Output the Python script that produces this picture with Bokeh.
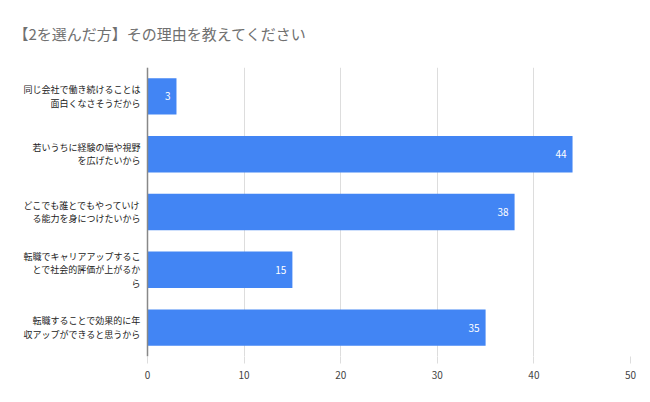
from bokeh.plotting import figure
from bokeh.models import ColumnDataSource, FactorRange, FixedTicker, LabelSet, Span, Range1d
from bokeh.embed import file_html
from bokeh.resources import INLINE
from bokeh.core.properties import value

title_text = "【2を選んだ方】その理由を教えてください"
categories = [
    "同じ会社で働き続けることは\n面白くなさそうだから",
    "若いうちに経験の幅や視野\nを広げたいから",
    "どこでも誰とでもやっていけ\nる能力を身につけたいから",
    "転職でキャリアアップするこ\nとで社会的評価が上がるか\nら",
    "転職することで効果的に年\n収アップができると思うから",
]
counts = [3, 44, 38, 15, 35]
x_ticks = [0, 10, 20, 30, 40, 50]

FONT = "Noto Sans CJK JP"
LINE_H = 13.3
W, H = 650, 402
AXIS_PX, RIGHT_PX = 147, 630          # pixel position of value 0 and value 50
x_max = 50
x_min = -AXIS_PX * x_max / (RIGHT_PX - AXIS_PX)   # room for category labels

src = ColumnDataSource(dict(cat=categories, val=counts, lab=[str(v) for v in counts]))

# per-line category labels (right aligned each line)
l_text, l_cat, l_off = [], [], []
for c in categories:
    lines = c.split("\n")
    n = len(lines)
    for i, ln in enumerate(lines):
        l_text.append(ln)
        l_cat.append(c)
        l_off.append((i - (n - 1) / 2) * LINE_H)
lsrc = ColumnDataSource(dict(t=l_text, cat=l_cat, off=l_off, x=[0] * len(l_text)))

p = figure(
    width=W, height=H,
    y_range=FactorRange(factors=list(reversed(categories))),
    x_range=Range1d(x_min, x_max),
    output_backend="svg", toolbar_location=None,
    min_border_left=0, min_border_right=W - RIGHT_PX, min_border_bottom=46, min_border_top=64,
)
p.hbar(y="cat", right="val", left=0, height=0.63, source=src,
       fill_color="#4285F4", line_color=None)

labels = LabelSet(x="val", y="cat", text="lab", source=src, text_align="right",
                  text_baseline="middle", x_offset=-6, text_color="white",
                  text_font_size="10px", text_font=value(FONT))
p.add_layout(labels)

p.text(x="x", y="cat", text="t", y_offset="off", x_offset=-7, source=lsrc,
       text_align="right", text_baseline="middle", text_color="#222222",
       text_font_size="9px", text_font=value(FONT))

p.add_layout(Span(location=0, dimension="height", line_color="#888888", line_width=1.5))

p.title.text = title_text
p.title.text_font = FONT
p.title.text_font_size = "15px"
p.title.text_font_style = "normal"
p.title.text_color = "#707070"
p.title.align = "left"
p.title.vertical_align = "top"
p.title.offset = 13
p.title.standoff = 44

p.outline_line_color = None
p.yaxis.visible = False
p.ygrid.grid_line_color = None
p.xgrid.grid_line_color = "#dddddd"
p.xgrid.ticker = FixedTicker(ticks=x_ticks)
p.xaxis.ticker = FixedTicker(ticks=x_ticks)
p.xaxis.axis_line_color = None
p.xaxis.major_tick_line_color = "#dddddd"
p.xaxis.major_tick_in = 0
p.xaxis.major_tick_out = 7
p.xaxis.minor_tick_line_color = None
p.xaxis.major_label_text_font = FONT
p.xaxis.major_label_text_font_size = "10px"
p.xaxis.major_label_text_color = "#444444"
p.xaxis.major_label_standoff = 7

open("out.html", "w").write(file_html(p, INLINE))
